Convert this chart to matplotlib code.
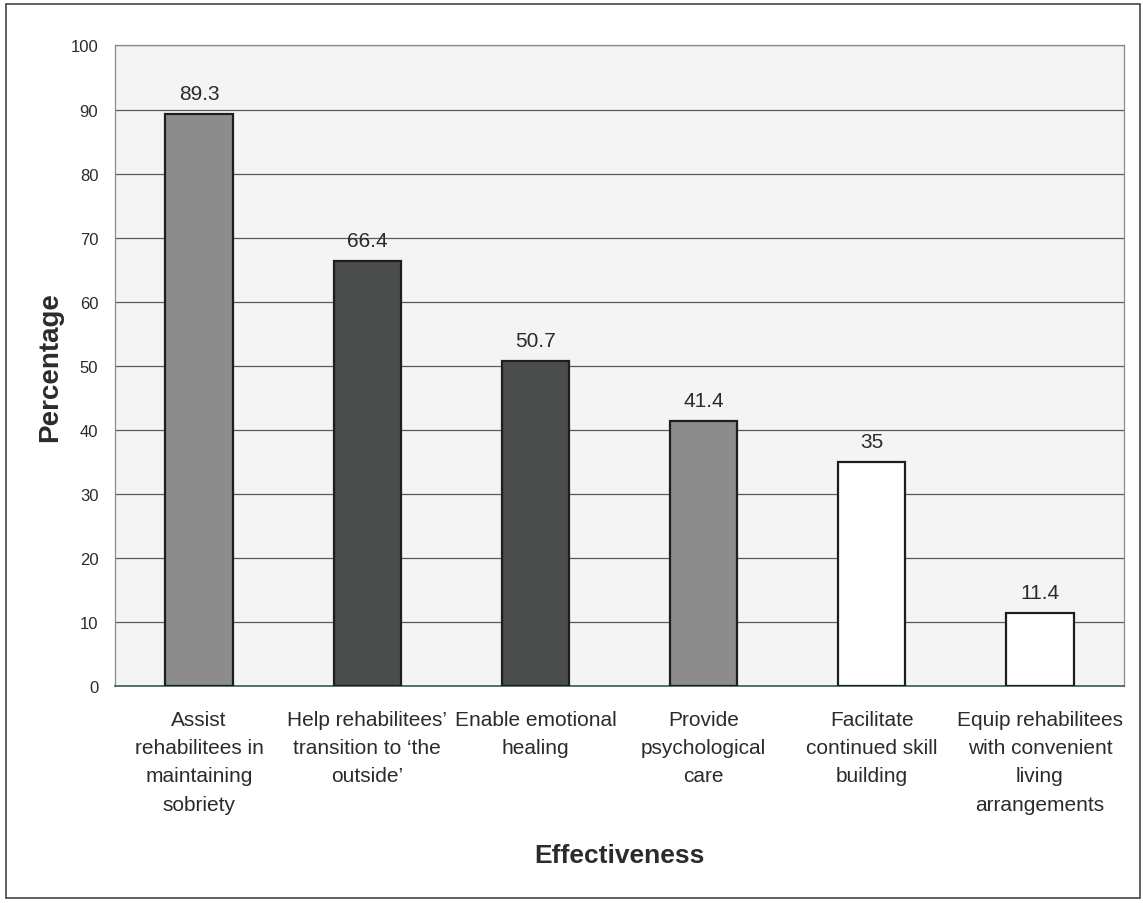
import matplotlib
matplotlib.use('Agg')
import matplotlib.pyplot as plt
from matplotlib.patches import Rectangle

plt.rcParams['font.family'] = ['Liberation Sans', 'DejaVu Sans']

# Данні з діаграми
categories = [
    'Assist\nrehabilitees in\nmaintaining\nsobriety',
    'Help rehabilitees\u2019\ntransition to \u2018the\noutside\u2019',
    'Enable emotional\nhealing',
    'Provide\npsychological\ncare',
    'Facilitate\ncontinued skill\nbuilding',
    'Equip rehabilitees\nwith convenient\nliving\narrangements',
]
values = [89.3, 66.4, 50.7, 41.4, 35, 11.4]
value_labels = ['89.3', '66.4', '50.7', '41.4', '35', '11.4']
bar_colors = ['#8c8c8c', '#4a4d4c', '#4a4d4c', '#8c8c8c', '#ffffff', '#ffffff']
y_ticks = list(range(0, 101, 10))

text_color = '#2b2b2b'

fig = plt.figure(figsize=(11.43, 9.04), dpi=100)
ax = fig.add_axes([0.1006, 0.2400, 0.8828, 0.7086])
ax.set_facecolor('#f4f4f4')

x = list(range(len(categories)))
bars = ax.bar(x, values, width=0.4, color=bar_colors, edgecolor='#1e1e1e',
              linewidth=1.6, zorder=3)

for xi, v, lbl in zip(x, values, value_labels):
    ax.annotate(lbl, (xi, v), xytext=(0, 8), textcoords='offset points',
                ha='center', va='bottom', fontsize=15, color=text_color)

ax.set_xlim(-0.5, len(categories) - 0.5)
ax.set_ylim(0, 100)
ax.set_yticks(y_ticks)
ax.set_yticklabels([str(t) for t in y_ticks], fontsize=12, color=text_color)
ax.set_xticks(x)
ax.set_xticklabels(categories, fontsize=15, color=text_color, linespacing=1.62,
                   va='top')
ax.tick_params(axis='x', length=0, pad=17)
ax.tick_params(axis='y', length=0, pad=12)

ax.yaxis.grid(True, color='#5a5a6a', linewidth=0.9, zorder=0)
ax.set_axisbelow(True)

for side in ['top', 'right', 'left']:
    ax.spines[side].set_color('#8a8a8a')
    ax.spines[side].set_linewidth(0.9)
ax.spines['bottom'].set_color('#3a5a50')
ax.spines['bottom'].set_linewidth(1.2)

ax.set_ylabel('Percentage', fontsize=20, fontweight='bold', color=text_color)
ax.yaxis.set_label_coords(-0.051, 0.5)
ax.set_xlabel('Effectiveness', fontsize=19, fontweight='bold', color=text_color,
              va='center')
ax.xaxis.set_label_coords(0.5, -0.263)

# рамка навколо всієї діаграми
fig.patches.append(Rectangle((0.005, 0.006), 0.992, 0.988, transform=fig.transFigure,
                             fill=False, edgecolor='#444444', linewidth=1.2))

fig.savefig('out.png', dpi=100)
